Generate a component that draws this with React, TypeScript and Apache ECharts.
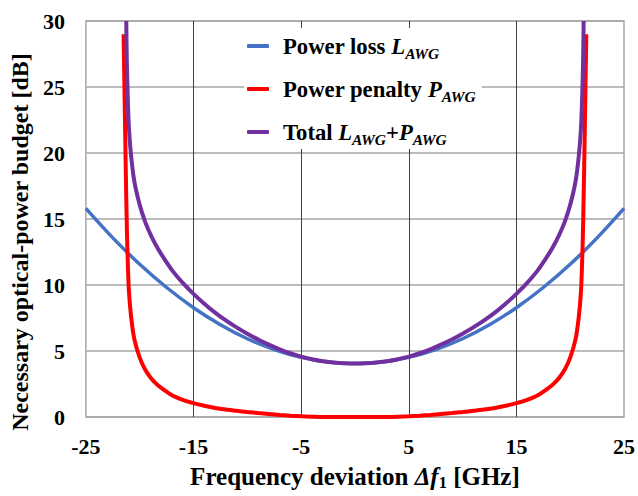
import React, { useEffect, useRef } from "react";
import * as echarts from "echarts";

// ---- data ----
const xTicks = [-25, -15, -5, 5, 15, 25];
const yTicks = [0, 5, 10, 15, 20, 25, 30];

const lossX = [-25, -22.5, -20, -17.5, -15, -12.5, -10, -7.5, -5, -2.5, 0, 2.5, 5, 7.5, 10, 12.5, 15, 17.5, 20, 22.5, 25];
const lossY = [15.8, 13.57, 11.57, 9.81, 8.28, 6.99, 5.93, 5.11, 4.52, 4.17, 4.05, 4.17, 4.52, 5.11, 5.93, 6.99, 8.28, 9.81, 11.57, 13.57, 15.8];

const penaltyX = [-21.5, -21.4, -21.3, -21.2, -21.1, -21, -20.8, -20.5, -20, -19.5, -19, -18.5, -18, -17, -16, -15, -14, -13, -12, -11, -10, -9, -8, -7, -6, -5, -4, -3, -2, -1, 0,
  1, 2, 3, 4, 5, 6, 7, 8, 9, 10, 11, 12, 13, 14, 15, 16, 17, 18, 18.5, 19, 19.5, 20, 20.5, 20.8, 21, 21.1, 21.2, 21.3, 21.4, 21.5];
const penaltyY = [29, 24, 19, 14.5, 11.5, 9.5, 7.6, 5.9, 4.5, 3.6, 3.0, 2.55, 2.2, 1.65, 1.3, 1.05, 0.85, 0.68, 0.56, 0.47, 0.38, 0.3, 0.23, 0.16, 0.1, 0.05, 0.02, 0, 0, 0, 0,
  0, 0, 0, 0.02, 0.05, 0.1, 0.16, 0.23, 0.3, 0.38, 0.47, 0.56, 0.68, 0.85, 1.05, 1.3, 1.65, 2.2, 2.55, 3.0, 3.6, 4.5, 5.9, 7.6, 9.5, 11.5, 14.5, 19, 24, 29];

const totalX = [-21.25, -21.2, -21.1, -21, -20.8, -20.5, -20, -19.5, -19, -18.5, -18, -17, -16, -15, -14, -13, -12, -11, -10, -9, -8, -7, -6, -5, -4, -3, -2, -1, 0,
  1, 2, 3, 4, 5, 6, 7, 8, 9, 10, 11, 12, 13, 14, 15, 16, 17, 18, 18.5, 19, 19.5, 20, 20.5, 20.8, 21, 21.1, 21.2, 21.25];
const totalY = [30, 27.0, 23.9, 21.84, 19.78, 17.85, 16.07, 14.8, 13.84, 13.03, 12.34, 11.13, 10.16, 9.33, 8.58, 7.91, 7.32, 6.79, 6.31, 5.87, 5.48, 5.13, 4.83, 4.57, 4.37, 4.22, 4.13, 4.07, 4.05,
  4.07, 4.13, 4.22, 4.37, 4.57, 4.83, 5.13, 5.48, 5.87, 6.31, 6.79, 7.32, 7.91, 8.58, 9.33, 10.16, 11.13, 12.34, 13.03, 13.84, 14.8, 16.07, 17.85, 19.78, 21.84, 23.9, 27.0, 30];

const seriesNames = ["loss", "penalty", "total"];
const legendLabels: Record<string, string> = {
  loss: "{g| }{b|Power loss }{i|L}{s|AWG}",
  penalty: "{g| }{b|Power penalty }{i|P}{s|AWG}",
  total: "{g| }{b|Total }{i|L}{s|AWG}{b|+}{i|P}{s|AWG}",
};
const colors = ["#4472C4", "#FF0000", "#7030A0"];

const FONT = "'Liberation Serif', 'Times New Roman', serif";

const zip = (xs: number[], ys: number[]) => xs.map((x, i) => [x, ys[i]]);

export default function App() {
  const ref = useRef<HTMLDivElement>(null);
  useEffect(() => {
    if (!ref.current) return;
    const chart = echarts.init(ref.current, undefined, { renderer: "svg" });
    const legendRich = {
      g: { width: 9, fontSize: 22, lineHeight: 30 },
      b: { fontFamily: FONT, fontWeight: "bold", fontSize: 22.7, color: "#000", lineHeight: 30 },
      i: { fontFamily: FONT, fontWeight: "bold", fontStyle: "italic", fontSize: 22.7, color: "#000", lineHeight: 30 },
      s: { fontFamily: FONT, fontWeight: "bold", fontStyle: "italic", fontSize: 15.5, color: "#000", lineHeight: 30, padding: [14, 0, 0, 0] },
    };
    const axisRich = {
      b: { fontFamily: FONT, fontWeight: "bold", fontSize: 25, color: "#000" },
      i: { fontFamily: FONT, fontWeight: "bold", fontStyle: "italic", fontSize: 25, color: "#000" },
      s: { fontFamily: FONT, fontWeight: "bold", fontSize: 16.5, color: "#000", padding: [12, 0, 0, 0] },
    };
    chart.setOption({
      animation: false,
      backgroundColor: "#fff",
      grid: {
        left: 84,
        top: 21,
        width: 544,
        height: 402,
        show: true,
        borderColor: "#A6A6A6",
        borderWidth: 1.5,
        backgroundColor: "transparent",
      },
      legend: {
        orient: "vertical",
        left: 244,
        top: 28,
        padding: [3, 6, 2, 3],
        backgroundColor: "#fff",
        itemWidth: 22,
        itemHeight: 4,
        itemGap: 13,
        icon: "roundRect",
        data: seriesNames,
        formatter: (name: string) => legendLabels[name],
        textStyle: { fontFamily: FONT, fontSize: 22.7, fontWeight: "bold", color: "#000", lineHeight: 30, rich: legendRich },
        selectedMode: false,
      },
      xAxis: {
        type: "value",
        min: xTicks[0],
        max: xTicks[xTicks.length - 1],
        interval: 10,
        axisLine: { show: false },
        axisTick: { show: false },
        splitLine: { show: true, showMinLine: false, showMaxLine: false, lineStyle: { color: "#404040", width: 1 } },
        axisLabel: { fontFamily: FONT, fontSize: 22, fontWeight: "bold", color: "#000", margin: 18 },
        name: "{b|Frequency deviation }{i|Δf}{s|1}{b| [GHz]}",
        nameLocation: "middle",
        nameGap: 45,
        nameTextStyle: { fontFamily: FONT, fontSize: 25, fontWeight: "bold", color: "#000", rich: axisRich },
      },
      yAxis: {
        type: "value",
        min: yTicks[0],
        max: yTicks[yTicks.length - 1],
        interval: 5,
        axisLine: { show: false },
        axisTick: { show: false },
        splitLine: { show: true, lineStyle: { color: "#A6A6A6", width: 1.5 } },
        axisLabel: { fontFamily: FONT, fontSize: 22, fontWeight: "bold", color: "#000", margin: 21 },
        name: "Necessary optical-power budget [dB]",
        nameLocation: "middle",
        nameRotate: 90,
        nameGap: 43,
        nameTextStyle: { fontFamily: FONT, fontSize: 24, fontWeight: "bold", color: "#000", padding: [0, 46, 0, 0] },
      },
      series: [
        {
          name: "loss",
          type: "line",
          data: zip(lossX, lossY),
          showSymbol: false,
          symbol: "none",
          smooth: 0.4,
          lineStyle: { color: colors[0], width: 3.5 },
          itemStyle: { color: colors[0] },
        },
        {
          name: "penalty",
          type: "line",
          data: zip(penaltyX, penaltyY),
          showSymbol: false,
          symbol: "none",
          smooth: 0.25,
          lineStyle: { color: colors[1], width: 4 },
          itemStyle: { color: colors[1] },
        },
        {
          name: "total",
          type: "line",
          data: zip(totalX, totalY),
          showSymbol: false,
          symbol: "none",
          smooth: 0.25,
          lineStyle: { color: colors[2], width: 4 },
          itemStyle: { color: colors[2] },
        },
      ],
    });
    return () => chart.dispose();
  }, []);
  return <div ref={ref} style={{ position: "fixed", left: 0, top: 0, width: 638, height: 496 }} />;
}
